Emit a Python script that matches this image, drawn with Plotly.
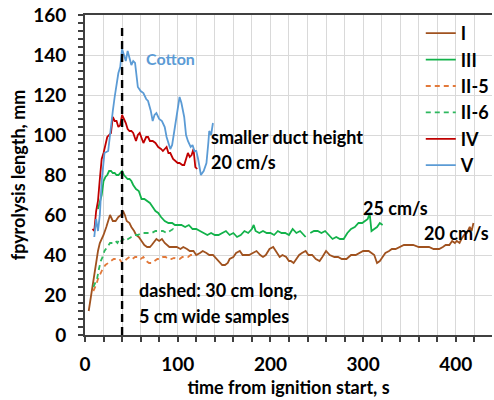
import plotly.graph_objects as go

# ---------------- data ----------------
# Series I (brown, solid)
I_t = [4, 6, 8, 10, 12, 14, 16, 18, 20, 23, 25, 27, 30, 33, 36, 39, 41, 43, 45, 48,
       50, 53, 55, 58, 61, 64, 67, 70, 72, 75, 77, 80, 83, 86, 89, 91, 95, 99, 103, 106,
       110, 113, 117, 120, 124, 127, 131, 134, 138, 142, 145, 148, 151, 154, 156, 160, 163, 167, 170, 173,
       177, 181, 185, 189, 192, 195, 199, 203, 207, 210, 213, 217, 220, 222, 225, 228, 231, 234, 238, 241,
       245, 249, 253, 256, 260, 264, 269, 273, 277, 282, 287, 292, 296, 300, 303, 306, 309, 312, 315, 318,
       321, 324, 328, 331, 335, 339, 344, 349, 354, 360, 365, 371, 376, 382, 386, 389, 393, 396, 399, 401,
       404, 406, 409, 412, 415, 417, 419]
I_y = [12, 18, 25, 32, 37, 42, 46, 48, 50, 54, 57, 60, 57, 57, 59, 60, 62, 60, 57, 56,
       54, 52, 50, 49, 47, 45, 44, 44, 45, 47, 48, 47, 48, 46, 45, 44, 44, 44, 43, 44,
       43, 42, 42, 40, 41, 42, 41, 40, 40, 38, 37, 35, 35, 36, 38, 39, 41, 42, 40, 40,
       40, 41, 42, 40, 39, 40, 43, 44, 41, 39, 40, 39, 37, 37, 36, 38, 40, 41, 42, 40,
       40, 38, 37, 39, 42, 40, 39, 39, 38, 38, 40, 40, 41, 42, 42, 42, 41, 40, 36, 37,
       39, 41, 42, 43, 43, 44, 45, 45, 45, 44, 44, 44, 43, 43, 44, 45, 45, 47, 46, 47,
       46, 48, 50, 51, 54, 52, 56]

# Series III (green, solid) -- None marks the short gap near 240 s
III_t = [14, 16, 18, 20, 22, 24, 26, 28, 30, 32, 34, 36, 38, 40, 42, 44, 46, 48, 50, 52,
         55, 58, 61, 64, 67, 70, 73, 76, 79, 82, 86, 90, 94, 97, 100, 104, 108, 112, 116, 120,
         124, 128, 132, 136, 140, 144, 148, 152, 156, 160, 164, 168, 172, 176, 180, 182, 184, 188, 192, 196,
         200, 204, 208, 212, 216, 220, 224, 228, 232, 236, 238, 240, 243, 247, 251, 255, 259, 263, 267, 271,
         275, 279, 283, 287, 291, 295, 299, 302, 305, 307, 309, 312, 315, 318, 321]
III_y = [63, 66, 70, 77, 79, 80, 82, 82, 81, 81, 80, 80, 81, 82, 80, 79, 78, 78, 77, 75,
         73, 72, 68, 68, 67, 66, 64, 62, 61, 59, 57, 56, 56, 55, 55, 55, 54, 55, 53, 53,
         52, 51, 50, 51, 50, 50, 51, 52, 50, 51, 49, 50, 52, 51, 53, 55, 52, 51, 52, 51,
         51, 50, 52, 51, 51, 50, 53, 51, 52, 50, 49, None, 51, 52, 52, 51, 52, 50, 48, 49,
         48, 48, 51, 53, 54, 56, 56, 57, 58, 61, 52, 53, 54, 56, 55]

# Series II-5 (orange, dashed)
II5_t = [9, 12, 14, 17, 19, 22, 25, 28, 31, 34, 37, 40, 42, 45, 48, 51, 54, 57, 60, 63,
         66, 69, 72, 75, 78, 81, 84, 87, 90, 93, 96, 99, 102, 105, 108, 111, 114, 117, 120]
II5_y = [22, 25, 28, 31, 33, 35, 36, 37, 38, 38, 38, 36, 37, 38, 39, 38, 39, 39, 38, 39,
         37, 36, 36, 37, 38, 38, 39, 39, 38, 38, 38.5, 38, 38, 39, 39, 39, 40, 40, 40]

# Series II-6 (green, dashed)
II6_t = [9, 11, 13, 15, 17, 19, 21, 24, 27, 30, 33, 35, 37, 39, 41, 43, 46, 50, 54, 57,
         61, 65, 68, 72, 76, 80, 84, 88, 92, 95, 98]
II6_y = [24, 26, 28, 33, 37, 39, 42, 44, 46, 46, 47, 46, 48, 47, 48, 47, 48, 49, 50, 50,
         51, 51, 51, 51, 52, 52, 52, 51, 52, 53, 52]

# Series IV (red, solid)
IV_t = [8, 10, 12, 14, 16, 18, 20, 22, 24, 26, 28, 30, 32, 34, 36, 38, 40, 42, 44, 46,
        48, 50, 52, 55, 57, 59, 61, 63, 66, 68, 70, 73, 76, 79, 82, 84, 86, 88, 90, 92,
        95, 97, 100, 102, 105, 107, 109, 111, 113, 115, 117, 119, 121]
IV_y = [53, 52, 62, 67, 78, 88, 91, 96, 99, 100, 101, 109, 107, 107, 104, 105, 110, 108, 106, 103,
        102, 102, 101, 97, 100, 101, 98, 96, 99, 99, 97, 97, 96, 94, 93, 92, 93, 94, 91, 91,
        88, 87, 86, 86, 85, 85, 88, 91, 89, 90, 93, 84, 83]

# Series V (blue, solid, cotton)
V_t = [10, 12, 14, 16, 18, 21, 25, 27, 30, 32, 34, 36, 38, 40, 42, 44, 46, 48, 50, 52,
       54, 57, 60, 63, 66, 68, 71, 73, 75, 77, 80, 83, 86, 88, 90, 92, 94, 97, 100, 102,
       104, 107, 109, 111, 114, 116, 118, 120, 122, 125, 128, 131, 133, 134, 136, 138]
V_y = [49, 58, 52, 60, 77, 91, 92, 101, 112, 119, 126, 131, 134, 143, 140, 137, 142, 138, 135, 137,
       136, 124, 122, 121, 118, 117, 112, 107, 110, 111, 108, 107, 104, 99, 96, 93, 95, 104, 114, 119,
       116, 109, 100, 97, 94, 95, 92, 92, 88, 80, 82, 86, 96, 102, 100, 106]

ignition_marker_t = 40
ignition_marker_top = 155

# ---------------- styling ----------------
FONT = "Lato"
series = [
    ("I", I_t, I_y, "#A0521F", "solid"),
    ("III", III_t, III_y, "#12B24A", "solid"),
    ("II-5", II5_t, II5_y, "#E2793A", "5px,4px"),
    ("II-6", II6_t, II6_y, "#2DB85E", "5px,4px"),
    ("IV", IV_t, IV_y, "#C00000", "solid"),
    ("V", V_t, V_y, "#5B9BD5", "solid"),
]

fig = go.Figure()
for name, t, y, color, dash in series:
    fig.add_trace(go.Scatter(x=t, y=y, mode="lines", name=name,
                             line=dict(color=color, width=1.8, dash=dash),
                             connectgaps=False))

fig.add_shape(type="line", xref="x", yref="y",
              x0=ignition_marker_t, x1=ignition_marker_t, y0=0, y1=ignition_marker_top,
              line=dict(color="black", width=2.4, dash="8px,5px"))

ann_font = dict(family=FONT, size=18, color="black", weight="bold")
annotations = [
    dict(x=64, y=138.5, text="Cotton", font=dict(family=FONT, size=16, color="#5B9BD5", weight="bold")),
    dict(x=134, y=99, text="smaller duct height", font=ann_font),
    dict(x=134, y=86.5, text="20 cm/s", font=ann_font),
    dict(x=298, y=63.5, text="25 cm/s", font=ann_font),
    dict(x=363, y=51, text="20 cm/s", font=ann_font),
    dict(x=56, y=22.5, text="dashed: 30 cm long,", font=ann_font),
    dict(x=56, y=9.5, text="5 cm wide samples", font=ann_font),
]
for a in annotations:
    fig.add_annotation(xref="x", yref="y", xanchor="left", yanchor="middle",
                       showarrow=False, **a)

axis_font = dict(family=FONT, size=19, color="black", weight="bold")
title_font = dict(family=FONT, size=18, color="black", weight="bold")
fig.update_layout(
    width=494, height=400,
    margin=dict(l=85, r=0, t=15, b=65),
    paper_bgcolor="white", plot_bgcolor="white",
    font=dict(family=FONT, color="black"),
    showlegend=True,
    legend=dict(x=0.825, y=1.0, xanchor="left", yanchor="top",
                bgcolor="rgba(0,0,0,0)", itemwidth=30, tracegroupgap=0,
                font=dict(family=FONT, size=18, color="black", weight="bold")),
    xaxis=dict(range=[0, 439], dtick=100, tick0=0,
               showline=True, linecolor="#404040", linewidth=2, mirror=True,
               ticks="outside", ticklen=5, tickcolor="#404040", tickwidth=1.5,
               showgrid=True, gridcolor="#D9D9D9", gridwidth=1, zeroline=False,
               minor=dict(dtick=20, tick0=0, showgrid=True, gridcolor="#D9D9D9",
                          ticks="outside", ticklen=5, tickcolor="#404040", tickwidth=1.5),
               tickfont=axis_font, ticklabelstandoff=6,
               title=dict(text="time from ignition start, s", font=title_font, standoff=8)),
    yaxis=dict(range=[0, 160], dtick=20, tick0=0,
               showline=True, linecolor="#404040", linewidth=2, mirror=False,
               ticks="outside", ticklen=5, tickcolor="#404040", tickwidth=1.5,
               showgrid=True, gridcolor="#D9D9D9", gridwidth=1, zeroline=False,
               minor=dict(dtick=4, tick0=0, showgrid=False,
                          ticks="outside", ticklen=5, tickcolor="#404040", tickwidth=1.5),
               tickfont=axis_font, ticklabelstandoff=8,
               title=dict(text="fpyrolysis length, mm", font=title_font, standoff=3)),
)

fig.write_html("out.html")
